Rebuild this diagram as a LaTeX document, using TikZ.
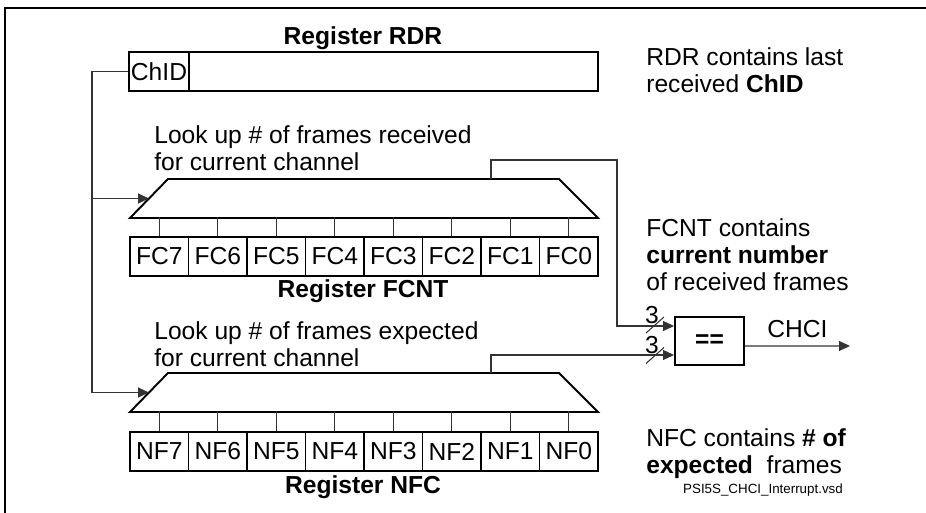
\documentclass[tikz,border=0pt]{standalone}
\usepackage{fontspec}
\setmainfont{Liberation Sans}
\usetikzlibrary{arrows.meta,positioning}

\begin{document}
\begin{tikzpicture}[
  txt/.style={font=\fontsize{14}{15.4}\selectfont,inner sep=0pt},
  sidenote/.style={txt,align=left,anchor=west},
  regtitle/.style={txt,font=\fontsize{14}{15.4}\selectfont\bfseries},
  cell/.style={draw,line width=1.1pt,minimum width=1.17cm,
    minimum height=0.78cm,inner sep=0pt,font=\fontsize{14}{15.4}\selectfont},
  sel/.style={draw,line width=1.1pt,line join=miter},
  wire/.style={black!80,line width=0.6pt},
  >={Triangle[length=0.22cm,width=0.2cm]}
]
\useasboundingbox (0,0) rectangle (18.52,-10.26);
\draw[line width=0.8pt] (0.1,-10.26) -- (0.1,-0.16) -- (18.52,-0.16);
%% Register RDR
\node[regtitle] (rdrt) at (7.26,-0.76) {Register RDR};
\node[cell,minimum width=1.2cm] (chid) at (3.18,-1.43) {ChID};
\node[cell,minimum width=8.18cm] (rdr) at (7.87,-1.43) {};
\node[sidenote] (rdrn) at (12.92,-1.41) {RDR contains last\\received \textbf{ChID}};
%% FCNT lookup
\node[sidenote] (fcl) at (3.08,-2.96) {Look up \# of frames received\\for current channel};
\draw[sel] (2.6,-4.36) -- (3.36,-3.58) -- (11.18,-3.58) -- (11.96,-4.36) -- cycle;
\coordinate (fcin) at (2.98,-3.97);
\coordinate (fcout) at (9.82,-3.58);
\foreach \i in {0,...,7} {
  \node[cell] (fc\i) at ({3.185+1.17*(7-\i)},-5.13) {FC\i};
  \draw[wire] (fc\i.north) -- ++(0,0.38);
}
\node[regtitle] (fct) at (7.26,-5.82) {Register FCNT};
\node[sidenote] (fcn) at (12.92,-5.09)
  {FCNT contains\\\textbf{current number}\\of received frames};
%% NFC lookup
\node[sidenote] (nfl) at (3.08,-6.88) {Look up \# of frames expected\\for current channel};
\draw[sel] (2.6,-8.24) -- (3.36,-7.46) -- (11.18,-7.46) -- (11.96,-8.24) -- cycle;
\coordinate (nfin) at (2.98,-7.85);
\coordinate (nfout) at (9.82,-7.46);
\foreach \i in {0,...,7} {
  \node[cell] (nf\i) at ({3.185+1.17*(7-\i)},-9.03) {NF\i};
  \draw[wire] (nf\i.north) -- ++(0,0.4);
}
\node[regtitle] (nft) at (7.26,-9.74) {Register NFC};
\node[sidenote] (nfn) at (12.92,-9.07)
  {NFC contains \textbf{\# of}\\\textbf{expected}\ \ frames};
\node[font=\fontsize{7.6}{9}\selectfont,inner sep=0pt] (file) at (15.26,-9.8)
  {PSI5S\_CHCI\_Interrupt.vsd};
%% channel id bus
\coordinate (bus) at (1.84,-1.43);
\draw[wire,->] (chid.west) -- (bus) |- (nfin);
\draw[wire,->] (bus |- fcin) -- (fcin);
%% comparator
\node[draw,line width=1.1pt,minimum width=1.38cm,minimum height=0.96cm,
  font=\fontsize{14}{15.4}\selectfont\bfseries] (cmp) at (14.19,-6.82) {==};
\draw[wire,->] (fcout) |- (12.34,-3.2) |- ([yshift=0.3cm]cmp.west);
\draw[wire,->] (nfout) |- ([yshift=-0.28cm]cmp.west);
\draw[wire] (12.92,-6.66) -- (13.28,-6.34);
\draw[wire] (12.92,-7.27) -- (13.28,-6.95);
\node[txt] (w1) at (13.04,-6.3) {3};
\node[txt] (w2) at (13.04,-6.9) {3};
\coordinate (chci) at (17.0,-6.92);
\draw[wire,->] ([yshift=-0.1cm]cmp.east) -- node[txt,black,above=0.16cm] {CHCI} (chci);
\end{tikzpicture}
\end{document}
